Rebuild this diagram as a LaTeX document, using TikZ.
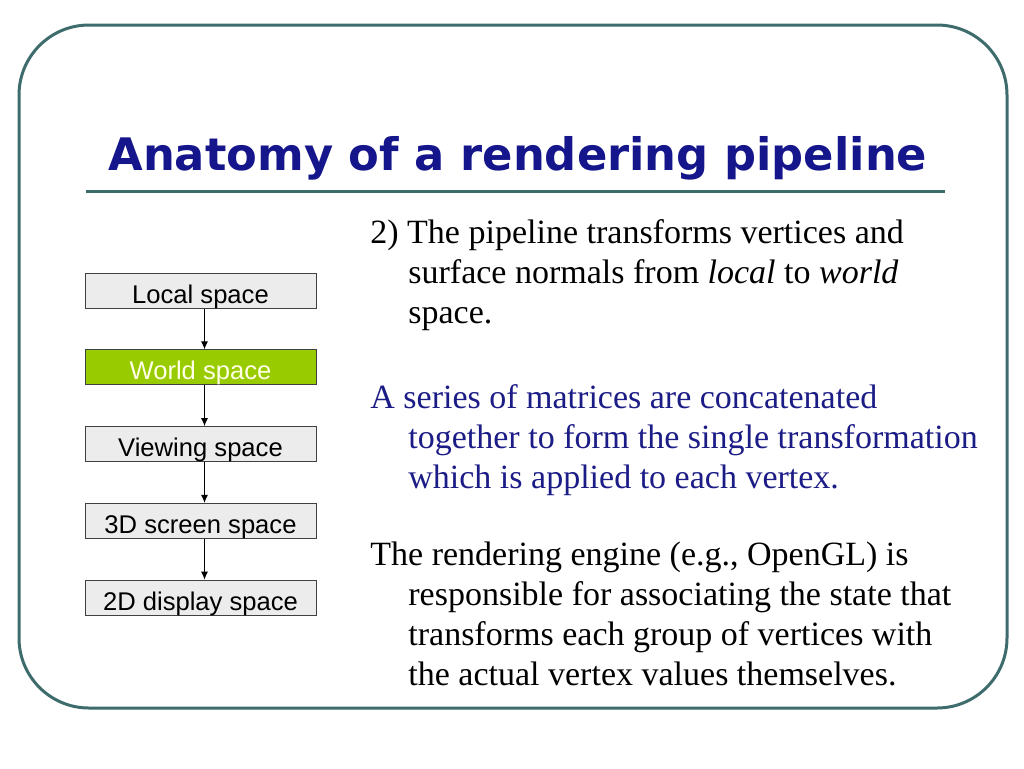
\documentclass[tikz,border=0pt]{standalone}
\usepackage{fontspec}
\setmainfont{Liberation Serif}
\setsansfont{Liberation Sans}
\newfontfamily\titlefont{DejaVu Sans}
\usetikzlibrary{positioning,arrows.meta}
\definecolor{framegreen}{RGB}{62,108,108}
\definecolor{titleblue}{RGB}{22,22,140}
\definecolor{textblue}{RGB}{28,28,135}
\definecolor{boxgray}{RGB}{236,236,236}
\definecolor{worldgreen}{RGB}{153,204,0}
\begin{document}
\begin{tikzpicture}
[x=0.5pt,y=-0.5pt,
space/.style={rectangle,draw=black!75,fill=boxgray,line width=0.5pt,minimum width=115.5pt,minimum height=17.5pt,inner sep=0pt,text height=15pt,text depth=2.5pt,font=\sffamily\fontsize{12.8pt}{14pt}\selectfont},
worldspace/.style={space,fill=worldgreen,text=white!90!yellow},
link/.style={-{Latex[length=4pt,width=3.5pt]},line width=0.5pt},
para/.style={align=left,inner sep=0pt,anchor=north west,font=\fontsize{17pt}{20pt}\selectfont}]
\useasboundingbox (0,0) rectangle (1024,768);
% frame and title
\draw[framegreen,line width=1.5pt,rounded corners=35pt] (19,25) rectangle (1007,708);
\node[anchor=base west,inner sep=0pt,text=titleblue,font=\titlefont\bfseries\fontsize{22.4pt}{26pt}\selectfont] (title) at (108,170) {Anatomy of a rendering pipeline};
\draw[framegreen,line width=1.5pt] (86,191) -- (945,191);
% the spaces
\node[space] (local) at (200.5,290.5) {Local space};
\node[worldspace,below=20.4pt of local] (world) {World space};
\node[space,below=20.4pt of world] (viewing) {Viewing space};
\node[space,below=20.4pt of viewing] (screen) {3D screen space};
\node[space,below=20.4pt of screen] (display) {2D display space};
\foreach \a/\b in {local/world,world/viewing,viewing/screen,screen/display}
  \draw[link] ([xshift=2pt]\a.south) -- ([xshift=2pt]\b.north);
% the text
\node[para] (stepText) at (370,219) {2) The pipeline transforms vertices and\\
\hspace*{19pt}surface normals from \textit{local} to \textit{world}\\
\hspace*{19pt}space.};
\node[para,text=textblue] (matrices) at (370,384) {A series of matrices are concatenated\\
\hspace*{19pt}together to form the single transformation\\
\hspace*{19pt}which is applied to each vertex.};
\node[para] (engine) at (370,541) {The rendering engine (e.g., OpenGL) is\\
\hspace*{19pt}responsible for associating the state that\\
\hspace*{19pt}transforms each group of vertices with\\
\hspace*{19pt}the actual vertex values themselves.};
\end{tikzpicture}
\end{document}
